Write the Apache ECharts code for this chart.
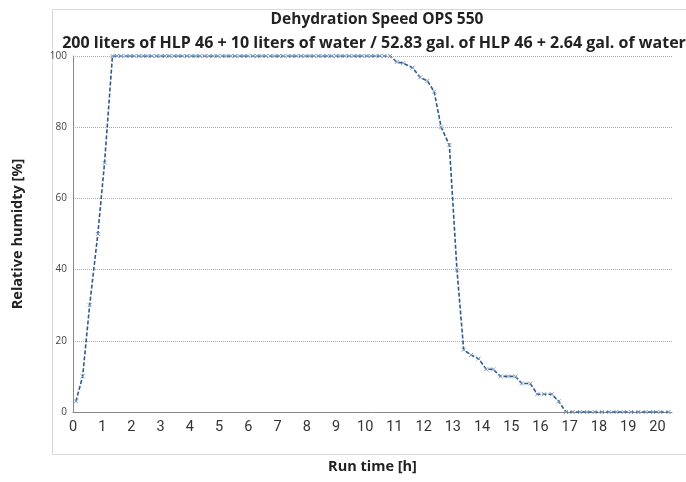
<!DOCTYPE html>
<html>
<head>
<meta charset="utf-8">
<script src="https://cdn.jsdelivr.net/npm/echarts@6/dist/echarts.min.js"></script>
<style>html,body{margin:0;padding:0;background:#fff}#c{width:686px;height:482px}</style>
</head>
<body>
<div id="c"></div>
<script>
const titleLine1 = "Dehydration Speed OPS 550";
const titleLine2 = "200 liters of HLP 46 + 10 liters of water / 52.83 gal. of HLP 46 + 2.64 gal. of water";
const xAxisName = "Run time [h]";
const yAxisName = "Relative humidty [%]";

// Run time [h]
const runTime = [
  0.1, 0.33, 0.57, 0.85, 1.08,
  1.35, 1.5, 1.65, 1.8, 1.95, 2.1, 2.25, 2.4, 2.55, 2.7, 2.85, 3.0, 3.15, 3.3, 3.45, 3.6, 3.75, 3.9,
  4.05, 4.2, 4.35, 4.5, 4.65, 4.8, 4.95, 5.1, 5.25, 5.4, 5.55, 5.7, 5.85, 6.0, 6.15, 6.3, 6.45, 6.6,
  6.75, 6.9, 7.05, 7.2, 7.35, 7.5, 7.65, 7.8, 7.95, 8.1, 8.25, 8.4, 8.55, 8.7, 8.85, 9.0, 9.15, 9.3,
  9.45, 9.6, 9.75, 9.9, 10.05, 10.2, 10.35, 10.5, 10.65, 10.85,
  11.08, 11.3, 11.62, 11.88, 12.13, 12.36, 12.6, 12.88, 13.14, 13.37, 13.62, 13.88, 14.14, 14.38,
  14.63, 14.88, 15.14, 15.36, 15.65, 15.89, 16.12, 16.39, 16.62, 16.87,
  17.1, 17.35, 17.6, 17.85, 18.1, 18.35, 18.6, 18.85, 19.1, 19.35, 19.6, 19.85, 20.1, 20.38
];
// Relative humidity [%]
const humidity = [
  3, 10, 30, 50, 70,
  100, 100, 100, 100, 100, 100, 100, 100, 100, 100, 100, 100, 100, 100, 100, 100, 100, 100,
  100, 100, 100, 100, 100, 100, 100, 100, 100, 100, 100, 100, 100, 100, 100, 100, 100, 100,
  100, 100, 100, 100, 100, 100, 100, 100, 100, 100, 100, 100, 100, 100, 100, 100, 100, 100,
  100, 100, 100, 100, 100, 100, 100, 100, 100, 100,
  98.3, 98, 96.7, 94, 93, 90, 80, 75, 40, 17.5, 16, 15, 12, 12,
  10, 10, 10, 8, 8, 5, 5, 5, 3, 0,
  0, 0, 0, 0, 0, 0, 0, 0, 0, 0, 0, 0, 0, 0
];
const yTicks = [0, 20, 40, 60, 80, 100];

const points = runTime.map((t, i) => [t, humidity[i]]);

const chart = echarts.init(document.getElementById('c'), null, {renderer: 'canvas'});
chart.setOption({
  animation: false,
  backgroundColor: '#fff',
  graphic: [{
    type: 'rect', left: 50, top: 7, z: -10, silent: true,
    shape: {width: 640, height: 445},
    style: {fill: 'none', stroke: '#d9d9d9', lineWidth: 1}
  }],
  title: [{
    text: titleLine1,
    left: 372, top: 7, textAlign: 'center',
    textStyle: {fontFamily: 'Open Sans', fontWeight: 'bold', fontSize: 15.5, color: '#222'}
  }, {
    text: titleLine2,
    left: 369, top: 30, textAlign: 'center',
    textStyle: {fontFamily: 'Open Sans', fontWeight: 'bold', fontSize: 16, color: '#222'}
  }],
  grid: {left: 73, right: 14, top: 56, bottom: 70, containLabel: false},
  xAxis: {
    type: 'value', min: 0, max: 20.5, interval: 1,
    name: xAxisName, nameLocation: 'middle', nameGap: 47,
    nameTextStyle: {fontFamily: 'Open Sans', fontWeight: 'bold', fontSize: 14.5, color: '#222'},
    axisLine: {show: true, lineStyle: {color: '#888', width: 1}},
    axisTick: {show: false},
    splitLine: {show: false},
    axisLabel: {showMaxLabel: false, fontFamily: 'Roboto', fontSize: 14.5, color: '#333', margin: 8}
  },
  yAxis: {
    type: 'value', min: 0, max: 100, interval: 20,
    name: yAxisName, nameLocation: 'middle', nameGap: 48,
    nameTextStyle: {fontFamily: 'Open Sans', fontWeight: 'bold', fontSize: 14.5, color: '#222'},
    axisLine: {show: true, lineStyle: {color: '#888', width: 1}},
    axisTick: {show: false},
    splitLine: {show: true, lineStyle: {color: '#aaa', type: [1, 1], width: 1}},
    axisLabel: {fontFamily: 'Open Sans', fontSize: 10, color: '#444', margin: 6,
      formatter: v => yTicks.includes(v) ? String(v) : ''}
  },
  series: [{
    type: 'line',
    data: points,
    symbol: 'path://M0 0L10 10M10 0L0 10',
    symbolSize: 4,
    showAllSymbol: true,
    lineStyle: {color: '#2d5a8e', width: 1.6, type: [4, 2]},
    itemStyle: {color: 'rgba(0,0,0,0)', borderColor: '#7d9cc0', borderWidth: 1}
  }]
});
</script>
</body>
</html>
